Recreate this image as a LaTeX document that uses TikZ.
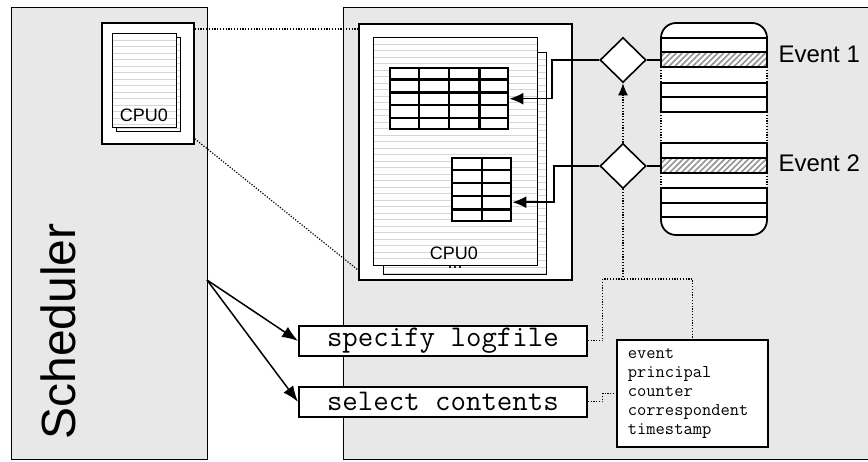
\documentclass[tikz,border=0pt]{standalone}
\usepackage{fontspec}
\setmainfont{Liberation Sans}
\usetikzlibrary{arrows.meta,shapes.geometric,calc,patterns.meta}
\definecolor{panelgray}{HTML}{E8E8E8}
\definecolor{stripegray}{HTML}{D6D6D6}
\definecolor{hatchgray}{HTML}{939393}
\definecolor{hatchbg}{HTML}{D4D4D4}

\tikzset{
  panel/.style={draw, line width=1.3pt, fill=panelgray, inner sep=0pt, anchor=north west},
  frame/.style={draw, line width=1.8pt, fill=white, inner sep=0pt, anchor=north west},
  sheet/.style={draw, line width=1.4pt, fill=white, inner sep=0pt, anchor=north west,
    path picture={
      \foreach \i in {1,...,40}{
        \draw[stripegray, line width=1.3pt]
          ([yshift=-\i*6.5pt]path picture bounding box.north west) --
          ([yshift=-\i*6.5pt]path picture bounding box.north east);
      }}},
  grid table/.style={draw, line width=2.4pt, fill=white, inner sep=0pt, anchor=north west},
  tabline/.style={line width=2.4pt},
  gate/.style={diamond, draw, line width=1.6pt, fill=white, inner sep=0pt,
    minimum width=46pt, minimum height=45pt},
  hatched/.style={inner sep=0pt, anchor=north west, fill=hatchbg,
    pattern={Lines[angle=45,distance=4.2pt,line width=1.6pt]}, pattern color=hatchgray},
  colline/.style={line width=1.8pt},
  cmdbox/.style={draw, line width=1.8pt, fill=white, inner sep=0pt, anchor=north west,
    minimum width=288pt, minimum height=30pt, font=\ttfamily\fontsize{30}{30}\selectfont},
  listbox/.style={draw, line width=1.8pt, fill=white, anchor=north west,
    inner xsep=11pt, inner ysep=0pt, text width=129pt, minimum height=107pt, align=left,
    font=\ttfamily\fontsize{18}{19}\selectfont},
  link/.style={line width=1.5pt},
  dots/.style={line width=1.2pt, dash pattern=on 1.2pt off 1.6pt},
  bigtip/.style={-{Latex[length=16pt,width=12pt]}},
  midtip/.style={-{Latex[length=14pt,width=12pt]}},
  smalltip/.style={-{Latex[length=12pt,width=10pt]}},
  cpulabel/.style={anchor=base, inner sep=0pt, font=\fontsize{18}{18}\selectfont},
}

\begin{document}
\begin{tikzpicture}[x=1pt,y=-1pt]
\useasboundingbox[fill=white] (0,0) rectangle (868,462);

% the two panels
\node[panel, minimum width=196pt, minimum height=452pt] (sched) at (11,7) {};
\node[panel, minimum width=560pt, minimum height=452pt] (mainp) at (343,7) {};

% small log page on the scheduler side
\node[frame, minimum width=92pt, minimum height=121pt] (smallbox) at (101,22) {};
\draw[dots] ([yshift=-7pt]smallbox.north east) -- (358,29);
\draw[dots] ([yshift=6pt]smallbox.south east) -- (358,270);
\node[sheet, minimum width=64pt, minimum height=94pt] (smallback) at (116,37) {};
\node[sheet, minimum width=64pt, minimum height=94pt] (smallfront) at (112,33) {};
\node[cpulabel] (smallcpu) at (144,122) {CPU0};

% enlarged log page
\node[frame, minimum width=213pt, minimum height=256pt] (bigbox) at (358,23) {};
\node[sheet, minimum width=163pt, minimum height=222pt] (bigback) at (383,52) {};
\node[cpulabel] (moredots) at (455,269) {...};
\node[sheet, minimum width=164pt, minimum height=228pt] (bigfront) at (373,37) {};
\node[cpulabel] (bigcpu) at (454,260) {CPU0};

% tables on the page
\node[grid table, minimum width=118pt, minimum height=61pt] (tab1) at (389,67) {};
\foreach \k in {1,2,3}
  \draw[tabline] ($(tab1.north west)!\k/4!(tab1.north east)$) -- ($(tab1.south west)!\k/4!(tab1.south east)$);
\foreach \k in {1,2,3,4}
  \draw[tabline] ($(tab1.north west)!\k/5!(tab1.south west)$) -- ($(tab1.north east)!\k/5!(tab1.south east)$);

\node[grid table, minimum width=59pt, minimum height=63pt] (tab2) at (451,157) {};
\draw[tabline] (tab2.north) -- (tab2.south);
\foreach \k in {1,2,3,4}
  \draw[tabline] ($(tab2.north west)!\k/5!(tab2.south west)$) -- ($(tab2.north east)!\k/5!(tab2.south east)$);

% event column
\fill[white, rounded corners=15pt] (661,23) rectangle (767,235);
\node[hatched, minimum width=106pt, minimum height=15pt] (ev1) at (661,52) {};
\node[hatched, minimum width=106pt, minimum height=15pt] (ev2) at (661,158) {};
\draw[colline, rounded corners=15pt] (661,67) -- (661,23) -- (767,23) -- (767,67);
\draw[colline] (661,38) -- (767,38) (661,52) -- (767,52) (661,67) -- (767,67);
\draw[colline] (661,83) rectangle (767,112) (661,97) -- (767,97);
\draw[colline] (661,143) rectangle (767,173) (661,158) -- (767,158);
\draw[colline, rounded corners=15pt] (661,188) -- (661,235) -- (767,235) -- (767,188);
\draw[colline] (661,188) -- (767,188) (661,203) -- (767,203) (661,217) -- (767,217);
\draw[dots] (661,67) -- (661,83) (767,67) -- (767,83)
            (661,112) -- (661,143) (767,112) -- (767,143)
            (661,173) -- (661,188) (767,173) -- (767,188);
\node[anchor=base west, font=\fontsize{24}{24}\selectfont] (evlab1) at (775,63) {Event 1};
\node[anchor=base west, font=\fontsize{24}{24}\selectfont] (evlab2) at (775,172) {Event 2};

% filters
\node[gate] (dia1) at (623,60) {};
\node[gate] (dia2) at (623,166) {};
\draw[link] (dia1.east) -- (dia1.east -| ev1.west);
\draw[link] (dia2.east) -- (dia2.east -| ev2.west);
\draw[link, midtip] (dia1.west) -- ++(-47,0) |- (tab1.east);
\draw[link, midtip] (dia2.west) -- ++(-45,0) |- ([yshift=-12.5pt]tab2.east);
\draw[dots, smalltip] (dia2.north) -- (dia1.south);

% commands and record fields
\node[cmdbox] (spec) at (298,325) {specify logfile};
\node[cmdbox] (sel) at (298,386) {select contents};
\node[listbox] (fields) at (616,339) {event\\principal\\counter\\correspondent\\timestamp};

\coordinate (junc) at (623,279);
\draw[dots] (dia2.south) -- (junc);
\draw[dots] (spec.east) -- ++(15,0) |- (junc) -| (fields.north);
\draw[dots] (sel.east) -- ++(15,0) |- (fields.west);

% scheduler
\node[rotate=90, anchor=base, font=\fontsize{48}{48}\selectfont] (schedlabel) at (75,331.5) {Scheduler};
\coordinate (fork) at (207,280);
\draw[link, bigtip] (fork) -- (spec.west);
\draw[link, bigtip] (fork) -- (sel.west);
\end{tikzpicture}
\end{document}
